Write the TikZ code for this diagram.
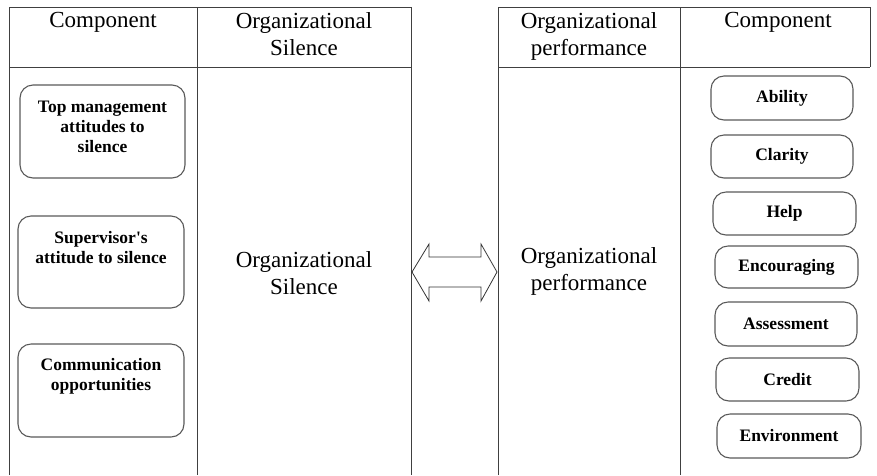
\documentclass[tikz,border=0pt]{standalone}
\usepackage{fontspec}
\setmainfont{Liberation Serif}
\begin{document}
\begin{tikzpicture}[x=1pt,y=-1pt,
  frame/.style={draw=black!75,line width=1pt},
  headtext/.style={font=\fontsize{23}{27}\selectfont,align=center,inner sep=0pt},
  boldtext/.style={font=\bfseries\fontsize{17.5}{20}\selectfont,align=center,inner sep=0pt},
  comp/.style={draw=black!65,line width=1.1pt,rounded corners=13pt,
    font=\bfseries\fontsize{17.5}{20}\selectfont,align=center,inner sep=0pt},
  arrowshape/.style={draw=black!80,line width=0.8pt,line join=miter,fill=white}]
\useasboundingbox (0,0) rectangle (877,475);

% left table frame
\draw[frame] (9,475) -- (9,7) -- (411,7) -- (411,475);
\draw[frame] (197,7) -- (197,475);
\draw[frame] (9,67) -- (411,67);
% right table frame
\draw[frame] (498,475) -- (498,7) -- (870,7) -- (870,67);
\draw[frame] (680,7) -- (680,475);
\draw[frame] (498,67) -- (870,67);

% header texts
\node[headtext,anchor=north] (hcompL) at (103,12) {Component};
\node[headtext,anchor=north] (hsil) at (304,12) {Organizational\\Silence};
\node[headtext,anchor=north] (hperf) at (589,12) {Organizational\\performance};
\node[headtext,anchor=north] (hcompR) at (778,12) {Component};

% central texts
\node[headtext] (sil) at (304,273) {Organizational\\Silence};
\node[headtext] (perf) at (589,271) {Organizational\\performance};

% left components (text set near the top of each box)
\node[comp,minimum width=165pt,minimum height=93pt] (c1) at (102.5,131.5) {};
\node[boldtext,anchor=north] (t1) at (c1.north) [yshift=-16pt] {Top management\\attitudes to\\silence};
\node[comp,minimum width=166pt,minimum height=92pt] (c2) at (101,262) {};
\node[boldtext,anchor=north] (t2) at (c2.north) [yshift=-15.5pt] {Supervisor\textquotesingle s\\attitude to silence};
\node[comp,minimum width=166pt,minimum height=93pt] (c3) at (101,390.5) {};
\node[boldtext,anchor=north] (t3) at (c3.north) [yshift=-15pt] {Communication\\opportunities};

% right components
\node[comp,minimum width=142pt,minimum height=44pt] (r1) at (782,98) {Ability};
\node[comp,minimum width=142pt,minimum height=43pt] (r2) at (782,156.5) {Clarity};
\node[comp,minimum width=143pt,minimum height=43pt] (r3) at (784.5,213.5) {Help};
\node[comp,minimum width=143pt,minimum height=42pt] (r4) at (786.5,267) {Encouraging};
\node[comp,minimum width=142pt,minimum height=44pt] (r5) at (786,324) {Assessment};
\node[comp,minimum width=143pt,minimum height=43pt] (r6) at (787.5,379.5) {Credit};
\node[comp,minimum width=144pt,minimum height=44pt] (r7) at (789,436) {Environment};

% double-headed block arrow between the two sides
\coordinate (aL) at (412,272);
\coordinate (aR) at (497,272);
\draw[arrowshape] (aL) -- (429,244) -- (429,257) -- (481,257) -- (481,244)
  -- (aR) -- (481,301) -- (481,287) -- (429,287) -- (429,301) -- cycle;
\end{tikzpicture}
\end{document}
